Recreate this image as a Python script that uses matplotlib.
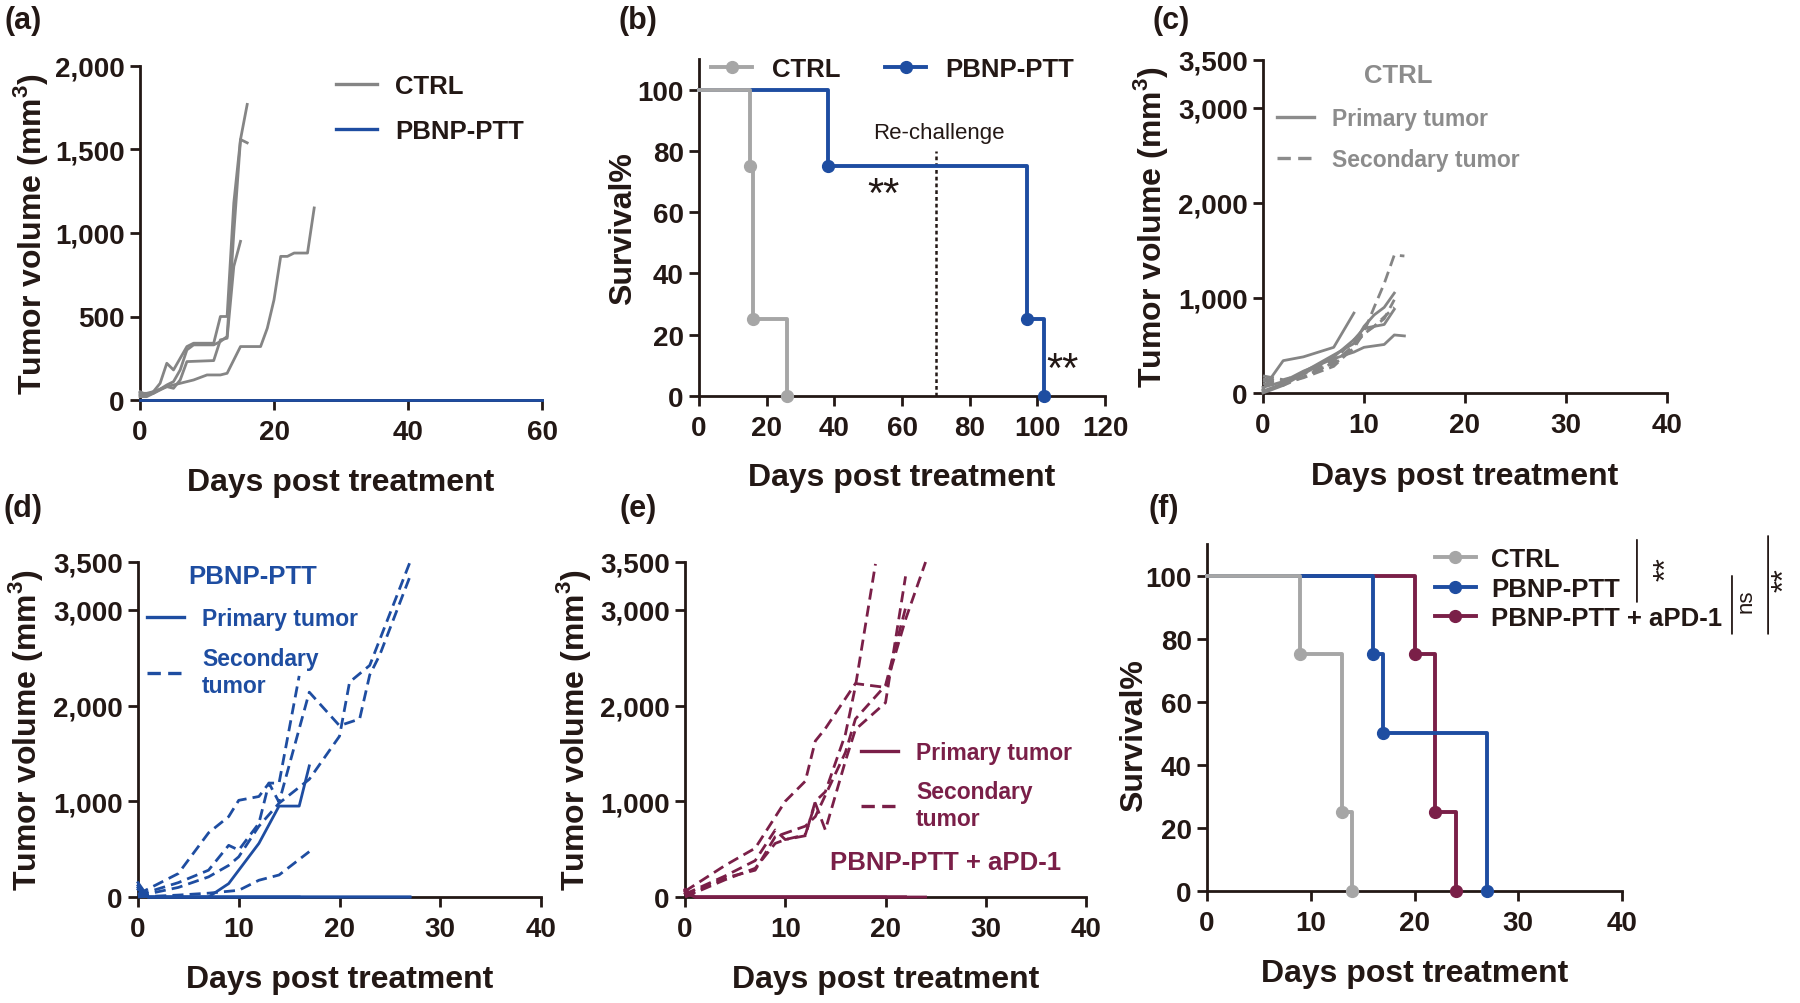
import numpy as np
import matplotlib.pyplot as plt
from matplotlib.lines import Line2D
from matplotlib.ticker import FuncFormatter

plt.rcParams['font.family'] = ['Liberation Sans', 'DejaVu Sans']
plt.rcParams['font.weight'] = 'bold'
plt.rcParams['axes.labelweight'] = 'bold'
plt.rcParams['mathtext.fontset'] = 'custom'
plt.rcParams['mathtext.rm'] = 'Liberation Sans:bold'
plt.rcParams['mathtext.bf'] = 'Liberation Sans:bold'

INK = '#231815'
GRAY = '#858585'
LGRAY = '#a6a6a6'
BLUE = '#1e4da1'
MAROON = '#7a1f48'
DASH = (0, (4.0, 2.2))
LW = 2.0
SLW = 2.8

# (a) primary tumour growth, CTRL vs PBNP-PTT
a_ctrl_days = [
    [0, 1, 2, 3, 4, 5, 7, 8, 11, 12, 13, 14, 15, 16],
    [0, 1, 2, 4, 5, 6, 7, 8, 11, 12, 13, 14, 15, 16],
    [0, 1, 2, 4, 5, 6, 7, 11, 12, 13, 14, 15],
    [0, 1, 2, 4, 6, 7, 8, 10, 12, 13, 15, 18, 19, 20, 21, 22, 23, 25, 26],
]
a_ctrl_vol = [
    [30, 30, 50, 100, 220, 180, 320, 340, 340, 500, 500, 1180, 1560, 1770],
    [20, 20, 40, 90, 110, 180, 300, 330, 330, 350, 380, 1000, 1560, 1540],
    [40, 40, 50, 80, 70, 120, 230, 236, 360, 370, 800, 950],
    [50, 30, 40, 80, 100, 110, 120, 150, 150, 160, 320, 320, 430, 600, 860, 860, 880, 880, 1150],
]
a_ptt_days = [0, 10, 20, 30, 40, 50, 60]
a_ptt_vol = [0, 0, 0, 0, 0, 0, 0]

# (b) survival with re-challenge
b_ctrl_days = [0, 15, 16, 26]
b_ctrl_surv = [100, 75, 25, 0]
b_ptt_days = [0, 38, 97, 102]
b_ptt_surv = [100, 75, 25, 0]
rechallenge_day = 70

# (c) CTRL primary / secondary tumours
c_prim_days = [
    [0, 2, 4, 7, 9],
    [0, 2, 4, 7, 9, 10, 11, 12, 13],
    [0, 2, 4, 7, 9, 10, 11, 12, 13],
    [0, 2, 4, 7, 9, 10, 12, 13, 14],
]
c_prim_vol = [
    [40, 340, 380, 480, 840],
    [20, 100, 220, 400, 520, 700, 820, 900, 1050],
    [0, 80, 200, 380, 560, 680, 700, 720, 880],
    [60, 120, 230, 360, 430, 480, 510, 610, 600],
]
c_sec_days = [
    [0, 2, 4, 7, 9, 10, 11, 12, 13, 14],
    [0, 2, 4, 7, 9],
    [0, 2, 4, 7, 9, 10, 12, 13],
    [0, 2, 4, 7, 9, 11, 13],
]
c_sec_vol = [
    [180, 140, 200, 300, 470, 640, 900, 1150, 1450, 1440],
    [130, 100, 160, 280, 480],
    [100, 80, 170, 320, 500, 620, 780, 980],
    [150, 120, 210, 340, 560, 700, 900],
]

# (d) PBNP-PTT primary / secondary tumours
d_prim_days = [
    [0, 1, 4, 7, 9, 12, 14, 16, 17],
    [0, 1, 4, 7, 10, 12, 14, 16],
    [0, 1, 4, 7, 10, 12, 14, 17, 20, 22, 24, 27],
    [0, 1, 4, 7, 10, 12, 14, 17, 20, 22, 24, 27],
]
d_prim_vol = [
    [150, 0, 0, 0, 140, 560, 950, 950, 1370],
    [120, 0, 0, 0, 0, 0, 0, 0],
    [100, 0, 0, 0, 0, 0, 0, 0, 0, 0, 0, 0],
    [80, 0, 0, 0, 0, 0, 0, 0, 0, 0, 0, 0],
]
d_sec_days = [
    [0, 4, 7, 9, 10, 12, 13, 14, 16],
    [0, 4, 7, 9, 10, 12, 13, 14, 17, 20, 22, 23, 24, 27],
    [0, 4, 7, 9, 10, 12, 14, 17, 20, 21, 23, 27],
    [0, 4, 7, 10, 12, 14, 17],
]
d_sec_vol = [
    [30, 245, 670, 840, 1010, 1050, 1190, 1190, 2310],
    [20, 150, 280, 540, 490, 770, 1190, 990, 2140, 1790, 1860, 2320, 2530, 3350],
    [10, 100, 210, 330, 420, 740, 980, 1230, 1680, 2245, 2420, 3500],
    [0, 20, 40, 70, 175, 230, 474],
]

# (e) PBNP-PTT + aPD-1 primary / secondary tumours
e_prim_days = [
    [0, 1, 4, 7, 10, 14, 17, 20],
    [0, 1, 4, 7, 10, 14, 17, 20, 22],
    [0, 1, 4, 7, 10, 14, 17, 20, 22],
    [0, 1, 4, 7, 10, 14, 17, 20, 22, 24],
]
e_prim_vol = [
    [80, 0, 0, 0, 0, 0, 0, 0],
    [60, 0, 0, 0, 0, 0, 0, 0, 0],
    [40, 0, 0, 0, 0, 0, 0, 0, 0],
    [70, 0, 0, 0, 0, 0, 0, 0, 0, 0],
]
e_sec_days = [
    [0, 4, 7, 10, 12, 13, 14, 17, 20, 22, 24],
    [0, 4, 7, 9, 10, 12, 13, 14, 16, 17, 19],
    [0, 4, 7, 9, 10, 12, 13, 14, 16, 17, 20, 22],
    [0, 4, 7, 9, 12, 13, 16, 17, 20, 22],
]
e_sec_vol = [
    [60, 330, 510, 1000, 1210, 1630, 1760, 2230, 2190, 2900, 3500],
    [30, 220, 380, 700, 600, 640, 1000, 1100, 1700, 2200, 3480],
    [0, 180, 300, 560, 600, 650, 980, 700, 1420, 1750, 2030, 3350],
    [10, 200, 280, 630, 740, 840, 1510, 1860, 2210, 3020],
]

# (f) survival, three groups
f_ctrl_days = [0, 9, 13, 14]
f_ctrl_surv = [100, 75, 25, 0]
f_ptt_days = [0, 16, 17, 27]
f_ptt_surv = [100, 75, 50, 0]
f_apd_days = [0, 20, 22, 24]
f_apd_surv = [100, 75, 25, 0]

W, H = 1800, 1004
fig = plt.figure(figsize=(18, 10.04), dpi=100)


def add_ax(left, top, right, bottom):
    return fig.add_axes([left / W, 1 - bottom / H, (right - left) / W, (bottom - top) / H])


def style(ax):
    for s in ['top', 'right']:
        ax.spines[s].set_visible(False)
    for s in ['left', 'bottom']:
        ax.spines[s].set_linewidth(2.0)
        ax.spines[s].set_color(INK)
    ax.tick_params(direction='out', length=7, width=2.0, color=INK,
                   labelsize=20, labelcolor=INK)
    ax.tick_params(axis='x', pad=7)
    ax.tick_params(axis='y', pad=4)


def labels(ax, ylab, ylx, yly=0.5, xly=-0.2):
    ax.set_xlabel('Days post treatment', fontsize=23, color=INK)
    ax.set_ylabel(ylab, fontsize=23, color=INK)
    ax.xaxis.set_label_coords(0.5, xly)
    ax.yaxis.set_label_coords(ylx, yly)


comma = FuncFormatter(lambda v, p: f'{v:,.0f}')
TV = 'Tumor volume (mm$^{\\mathbf{3}}$)'

# ---- (a)
ax = add_ax(140, 67, 542, 401)
style(ax)
for d, v in zip(a_ctrl_days, a_ctrl_vol):
    ax.plot(d, v, color=GRAY, lw=LW, clip_on=False, zorder=3)
ax.plot(a_ptt_days, a_ptt_vol, color=BLUE, lw=LW, clip_on=False, zorder=3)
ax.set_xlim(0, 60)
ax.set_ylim(0, 2000)
ax.set_xticks([0, 20, 40, 60])
ax.set_yticks([0, 500, 1000, 1500, 2000])
ax.yaxis.set_major_formatter(comma)
labels(ax, TV, -0.225, xly=-0.2)
h = [Line2D([], [], color=GRAY, lw=2.4), Line2D([], [], color=BLUE, lw=2.4)]
ax.legend(h, ['CTRL', 'PBNP-PTT'], loc='upper left', bbox_to_anchor=(0.488, 0.975),
          frameon=False, prop=dict(size=18.5, weight='bold'), labelcolor=INK,
          handlelength=1.6, handletextpad=0.7, borderpad=0, borderaxespad=0,
          labelspacing=0.8)

# ---- (b)
ax = add_ax(699, 60, 1105, 397)
style(ax)
ax.step(b_ptt_days, b_ptt_surv, where='post', color=BLUE, lw=SLW, clip_on=False, zorder=3)
ax.plot(b_ptt_days[1:], b_ptt_surv[1:], 'o', color=BLUE, ms=8.5, clip_on=False, zorder=4)
ax.step(b_ctrl_days, b_ctrl_surv, where='post', color=LGRAY, lw=SLW, clip_on=False, zorder=3)
ax.plot(b_ctrl_days[1:], b_ctrl_surv[1:], 'o', color=LGRAY, ms=8.5, clip_on=False, zorder=4)
ax.plot([rechallenge_day, rechallenge_day], [0, 80], color=INK, lw=1.8, ls=(0, (1.5, 1.2)), zorder=2)
ax.text(rechallenge_day + 1, 86, 'Re-challenge', ha='center', va='center',
        fontsize=16, fontweight='normal', color=INK)
ax.text(54.5, 65.5, '**', ha='center', va='center', fontsize=30, fontweight='normal', color=INK)
ax.text(107.5, 8.5, '**', ha='center', va='center', fontsize=30, fontweight='normal', color=INK)
ax.set_xlim(0, 120)
ax.set_ylim(0, 110)
ax.set_xticks(range(0, 121, 20))
ax.set_yticks(range(0, 101, 20))
labels(ax, 'Survival%', -0.15, xly=-0.196)
h = [Line2D([], [], color=LGRAY, lw=SLW, marker='o', ms=8.5),
     Line2D([], [], color=BLUE, lw=SLW, marker='o', ms=8.5)]
ax.legend(h, ['CTRL', 'PBNP-PTT'], ncol=2, loc='upper left', bbox_to_anchor=(0.03, 1.005),
          frameon=False, prop=dict(size=18.5, weight='bold'), labelcolor=INK,
          handlelength=1.6, handletextpad=0.75, columnspacing=1.75,
          borderpad=0, borderaxespad=0)

# ---- (c)
ax = add_ax(1263, 61, 1667, 394)
style(ax)
for d, v in zip(c_prim_days, c_prim_vol):
    ax.plot(d, v, color=GRAY, lw=LW, clip_on=False, zorder=3)
for d, v in zip(c_sec_days, c_sec_vol):
    ax.plot(d, v, color=GRAY, lw=LW, ls=DASH, clip_on=False, zorder=3)
ax.set_xlim(0, 40)
ax.set_ylim(0, 3500)
ax.set_xticks(range(0, 41, 10))
ax.set_yticks([0, 1000, 2000, 3000, 3500])
ax.yaxis.set_major_formatter(comma)
labels(ax, TV, -0.23, xly=-0.204)


def tumor_legend(ax, color, labs, title, anchor, spacing):
    h = [Line2D([], [], color=color, lw=2.4), Line2D([], [], color=color, lw=2.4, ls=DASH)]
    leg = ax.legend(h, labs, title=title, loc='upper left', bbox_to_anchor=anchor,
                    frameon=False, prop=dict(size=16.5, weight='bold'), labelcolor=color,
                    title_fontproperties=dict(size=18.5, weight='bold'),
                    handlelength=1.6, handletextpad=0.8, borderpad=0, borderaxespad=0,
                    labelspacing=spacing)
    if title:
        leg.get_title().set_color(color)
        leg._legend_box.sep = 14
    return leg


tumor_legend(ax, '#8c8c8c', ['Primary tumor', 'Secondary tumor'], 'CTRL', (0.035, 0.99), 0.8)

# ---- (d)
ax = add_ax(138, 563, 541, 898)
style(ax)
for d, v in zip(d_prim_days, d_prim_vol):
    ax.plot(d, v, color=BLUE, lw=LW, clip_on=False, zorder=3)
for d, v in zip(d_sec_days, d_sec_vol):
    ax.plot(d, v, color=BLUE, lw=LW, ls=DASH, clip_on=False, zorder=3)
ax.set_xlim(0, 40)
ax.set_ylim(0, 3500)
ax.set_xticks(range(0, 41, 10))
ax.set_yticks([0, 1000, 2000, 3000, 3500])
ax.yaxis.set_major_formatter(comma)
labels(ax, TV, -0.231, xly=-0.2)
tumor_legend(ax, BLUE, ['Primary tumor', 'Secondary\ntumor'], 'PBNP-PTT', (0.022, 0.995), 0.75)

# ---- (e)
ax = add_ax(685, 563, 1086, 898)
style(ax)
for d, v in zip(e_prim_days, e_prim_vol):
    ax.plot(d, v, color=MAROON, lw=LW, clip_on=False, zorder=3)
for d, v in zip(e_sec_days, e_sec_vol):
    ax.plot(d, v, color=MAROON, lw=LW, ls=DASH, clip_on=False, zorder=3)
ax.set_xlim(0, 40)
ax.set_ylim(0, 3500)
ax.set_xticks(range(0, 41, 10))
ax.set_yticks([0, 1000, 2000, 3000, 3500])
ax.yaxis.set_major_formatter(comma)
labels(ax, TV, -0.229, xly=-0.2)
tumor_legend(ax, MAROON, ['Primary tumor', 'Secondary\ntumor'], None, (0.439, 0.465), 0.7)
ax.text(0.65, 0.105, 'PBNP-PTT + aPD-1', transform=ax.transAxes, ha='center', va='center',
        fontsize=18.5, color=MAROON)

# ---- (f)
ax = add_ax(1207, 545, 1622, 892)
style(ax)
for d, s, c in [(f_apd_days, f_apd_surv, MAROON), (f_ptt_days, f_ptt_surv, BLUE),
                (f_ctrl_days, f_ctrl_surv, LGRAY)]:
    ax.step(d, s, where='post', color=c, lw=SLW, clip_on=False, zorder=3)
    ax.plot(d[1:], s[1:], 'o', color=c, ms=8.5, clip_on=False, zorder=4)
ax.set_xlim(0, 40)
ax.set_ylim(0, 110)
ax.set_xticks(range(0, 41, 10))
ax.set_yticks(range(0, 101, 20))
labels(ax, 'Survival%', -0.14, yly=0.452, xly=-0.193)
h = [Line2D([], [], color=c, lw=SLW, marker='o', ms=8.5) for c in (LGRAY, BLUE, MAROON)]
ax.legend(h, ['CTRL', 'PBNP-PTT', 'PBNP-PTT + aPD-1'], loc='upper left',
          bbox_to_anchor=(0.549, 0.99), frameon=False, prop=dict(size=18.5, weight='bold'),
          labelcolor=INK, handlelength=1.6, handletextpad=0.6, borderpad=0,
          borderaxespad=0, labelspacing=0.2)
# significance brackets (text baseline placed to the right of the glyphs)
for x, y0, y1, txt, tx, ty, fs in [(1.036, 1.012, 0.833, '**', 1.128, 0.93, 22),
                                   (1.265, 0.908, 0.741, 'ns', 1.313, 0.839, 16),
                                   (1.352, 1.023, 0.741, '**', 1.412, 0.90, 22)]:
    ax.annotate('', xy=(x, y0), xytext=(x, y1), xycoords='axes fraction',
                arrowprops=dict(arrowstyle='-', color=INK, lw=1.3, shrinkA=0, shrinkB=0))
    ax.text(tx, ty, txt, transform=ax.transAxes, rotation=90, rotation_mode='anchor',
            ha='center', va='baseline', fontsize=fs, fontweight='normal', color=INK)

# panel letters
for lab, x, y in [('(a)', 23, 21), ('(b)', 638, 21), ('(c)', 1171, 21),
                  ('(d)', 23, 509), ('(e)', 638, 509), ('(f)', 1164, 509)]:
    fig.text(x / W, 1 - y / H, lab, ha='center', va='center', fontsize=22, color=INK)

fig.savefig('out.png', dpi=100)
